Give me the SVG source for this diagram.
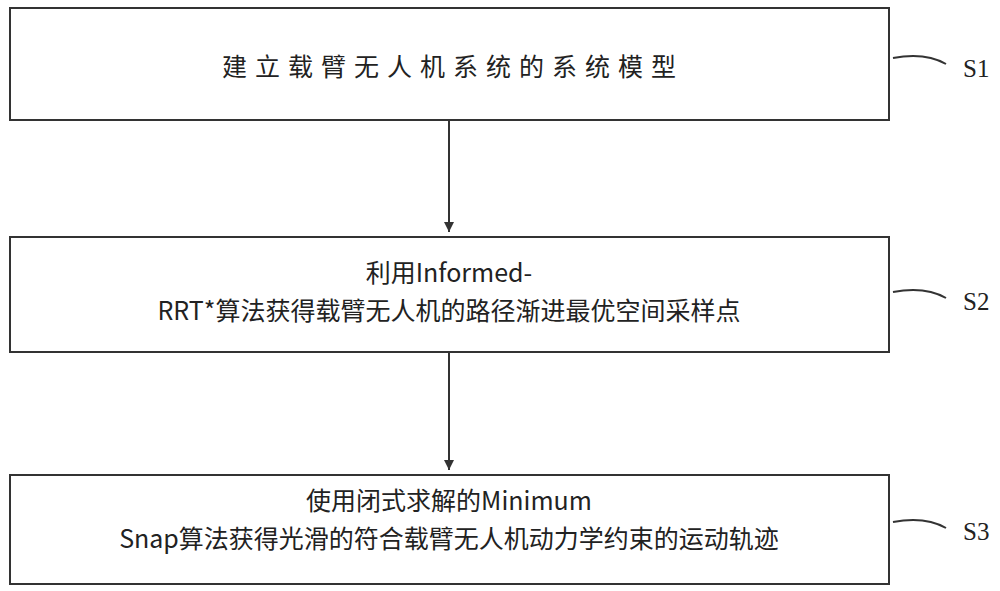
<svg xmlns="http://www.w3.org/2000/svg" width="1000" height="591" viewBox="0 0 1000 591">
<style>
.box{fill:#fff;stroke:#333;stroke-width:2}
.t{font-family:"Noto Sans CJK SC","Noto Sans CJK JP",sans-serif;font-size:25px;fill:#222;text-anchor:middle}
.lab{font-family:"Liberation Serif",serif;font-size:25px;fill:#222}
.c{fill:none;stroke:#333;stroke-width:2}
</style>
<defs><marker id="ah" markerWidth="12" markerHeight="12" refX="10" refY="5" orient="auto" markerUnits="userSpaceOnUse"><path d="M0,0 L10,5 L0,10 Z" fill="#333"/></marker></defs>
<rect width="1000" height="591" fill="#fff"/>
<g id="n1"><rect class="box" x="10" y="8" width="879" height="112"/><text class="t" x="449" y="76" font-size="28" textLength="454">建立载臂无人机系统的系统模型</text></g>
<g id="n2"><rect class="box" x="10" y="237" width="879" height="115"/><text class="t" x="449" y="282">利用Informed-</text><text class="t" x="449" y="320">RRT*算法获得载臂无人机的路径渐进最优空间采样点</text></g>
<g id="n3"><rect class="box" x="10" y="475" width="879" height="109"/><text class="t" x="449" y="510">使用闭式求解的Minimum</text><text class="t" x="449" y="548">Snap算法获得光滑的符合载臂无人机动力学约束的运动轨迹</text></g>
<g id="connectors">
<line class="c" x1="449" y1="120" x2="449" y2="232" marker-end="url(#ah)"/>
<line class="c" x1="449" y1="352" x2="449" y2="470" marker-end="url(#ah)"/>
<path class="c" d="M893,58 Q925,52 946,64"/>
<path class="c" d="M893,292 Q925,286 946,298"/>
<path class="c" d="M893,522 Q925,516 946,528"/>
</g>
<g id="labels"><text class="lab" x="963" y="77">S1</text><text class="lab" x="963" y="310">S2</text><text class="lab" x="963" y="540">S3</text></g>
</svg>
